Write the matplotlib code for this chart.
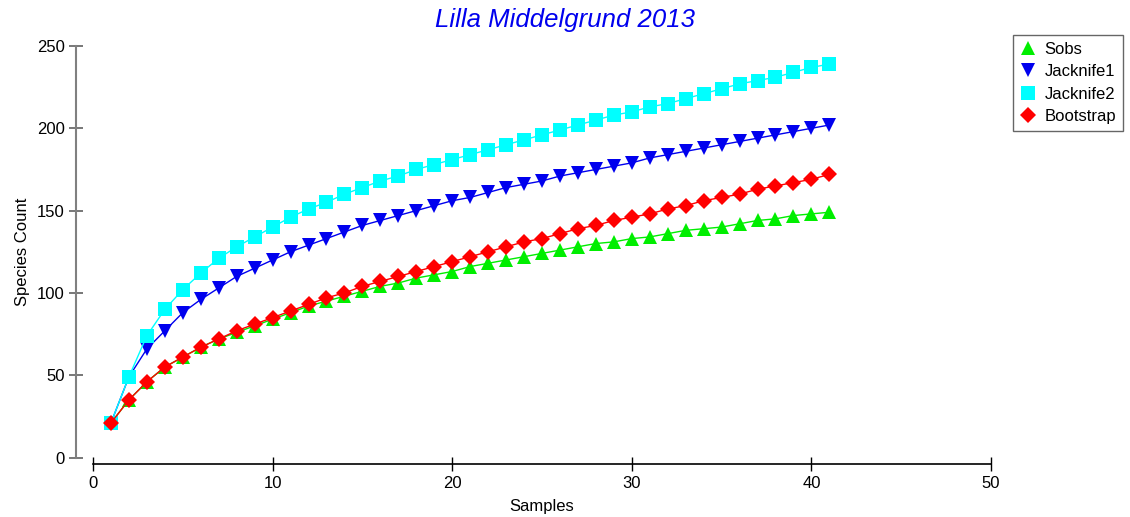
import numpy as np
import matplotlib
matplotlib.use("Agg")
import matplotlib.pyplot as plt

plt.rcParams['font.family'] = ['Liberation Sans', 'DejaVu Sans']

samples = np.arange(1, 42)

sobs = [21, 35, 46, 55, 61, 67, 72, 76, 80, 84, 88, 92, 95, 98, 101, 104, 106, 109,
        111, 113, 116, 118, 120, 122, 124, 126, 128, 130, 131, 133, 134, 136, 138,
        139, 140, 142, 144, 145, 147, 148, 149]
jack1 = [21, 49, 66, 77, 88, 96, 103, 110, 115, 120, 125, 129, 133, 137, 141, 144,
         147, 150, 153, 156, 158, 161, 164, 166, 168, 171, 173, 175, 177, 179, 182,
         184, 186, 188, 190, 192, 194, 196, 198, 200, 202]
jack2 = [21, 49, 74, 90, 102, 112, 121, 128, 134, 140, 146, 151, 155, 160, 164, 168,
         171, 175, 178, 181, 184, 187, 190, 193, 196, 199, 202, 205, 208, 210, 213,
         215, 218, 221, 224, 227, 229, 231, 234, 237, 239]
boot = [21, 35, 46, 55, 61, 67, 72, 77, 81, 85, 89, 93, 97, 100, 104, 107, 110, 113,
        116, 119, 122, 125, 128, 131, 133, 136, 139, 141, 144, 146, 148, 151, 153,
        156, 158, 160, 163, 165, 167, 169, 172]

names = ["Sobs", "Jacknife1", "Jacknife2", "Bootstrap"]
colors = ["#00ee00", "#0000ee", "#00ffff", "#ff0000"]
markers = ["^", "v", "s", "D"]
sizes = [10, 10, 9.5, 8.5]

fig = plt.figure(figsize=(11.3, 5.17), dpi=100)
ax = fig.add_axes([93 / 1130, 59.5 / 517, 898 / 1130, 411.5 / 517])

for vals, name, c, m, s in zip([sobs, jack1, jack2, boot], names, colors, markers, sizes):
    ax.plot(samples, vals, color=c, marker=m, markersize=s, linewidth=1.0,
            markeredgewidth=0, label=name)

ax.set_xlim(0, 50)
ax.set_ylim(0, 250)
ax.set_xticks([0, 10, 20, 30, 40, 50])
ax.set_yticks([0, 50, 100, 150, 200, 250])

for side in ["top", "right"]:
    ax.spines[side].set_visible(False)
ax.spines["left"].set_position(("outward", 12))
ax.spines["bottom"].set_position(("outward", 4.7))
ax.spines["left"].set_color("#808080")
ax.spines["left"].set_linewidth(1.5)
ax.spines["bottom"].set_linewidth(1.2)
ax.tick_params(axis="y", direction="inout", length=10, width=1.2, color="#606060",
               labelsize=12)
ax.tick_params(axis="x", direction="inout", length=10, width=1.0, labelsize=12)

ax.set_xlabel("Samples", fontsize=12, labelpad=6)
ax.set_ylabel("Species Count", fontsize=12, labelpad=5)

fig.text(0.5, 1 - 20 / 517, "Lilla Middelgrund 2013", ha="center", va="center",
         fontsize=18.5, style="italic", color="#0000ee")

leg = fig.legend(loc="upper left", bbox_to_anchor=(1013 / 1130, 1 - 35 / 517),
                 fontsize=12, frameon=True, fancybox=False, edgecolor="#404040",
                 handlelength=1.0, handletextpad=0.5, borderpad=0.4,
                 labelspacing=0.45, borderaxespad=0)
leg.get_frame().set_linewidth(1.0)
for h in leg.legend_handles:
    h.set_linestyle("")

fig.savefig("out.png", dpi=100)
